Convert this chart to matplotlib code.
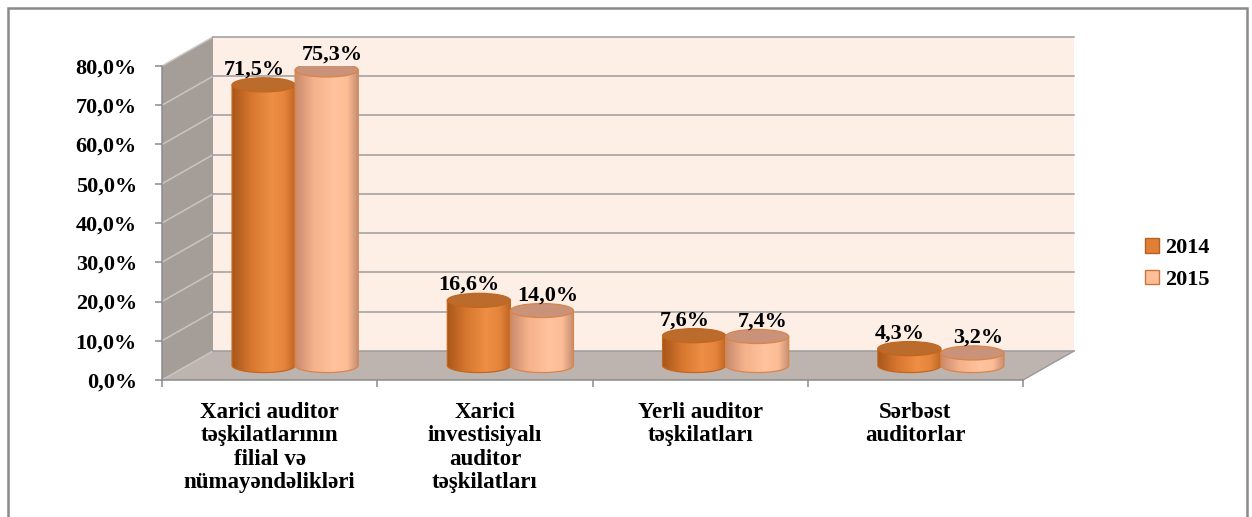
import numpy as np
import matplotlib
matplotlib.use('Agg')
import matplotlib.pyplot as plt
from matplotlib.patches import Polygon, Ellipse, PathPatch, Patch, Rectangle
from matplotlib.path import Path
from matplotlib.colors import LinearSegmentedColormap

# Data.
categories = ['Xarici auditor\ntəşkilatlarının\nfilial və\nnümayəndəlikləri',
              'Xarici\ninvestisiyalı\nauditor\ntəşkilatları',
              'Yerli auditor\ntəşkilatları',
              'Sərbəst\nauditorlar']
years = ['2014', '2015']
share_2014 = [71.5, 16.6, 7.6, 4.3]
share_2015 = [75.3, 14.0, 7.4, 3.2]
y_ticks = [0, 10, 20, 30, 40, 50, 60, 70, 80]

plt.rcParams['font.family'] = ['Liberation Serif', 'DejaVu Serif']
plt.rcParams['font.weight'] = 'bold'

# 3D look: how far the back wall sits from the front plane (data units).
DX, DY = 0.237, 7.39
BAR_W = 0.293
ELL_H = 3.6

fig = plt.figure(figsize=(12.52, 5.17), dpi=100)
ax = fig.add_axes([162 / 1252, 137 / 517, 861 / 1252, 314 / 517])
ax.set_facecolor('none')

x0, x1 = -0.5, len(categories) - 0.5
ymax = y_ticks[-1]

# walls and floor
side = Polygon([(x0, 0), (x0, ymax), (x0 + DX, ymax + DY), (x0 + DX, DY)],
               closed=True, facecolor='#a59d98', edgecolor='none', zorder=0.5, clip_on=False)
back = Polygon([(x0 + DX, DY), (x0 + DX, ymax + DY), (x1 + DX, ymax + DY), (x1 + DX, DY)],
               closed=True, facecolor='#fdeee6', edgecolor='none', zorder=0.5, clip_on=False)
floor = Polygon([(x0, 0), (x1, 0), (x1 + DX, DY), (x0 + DX, DY)],
                closed=True, facecolor='#bdb4b0', edgecolor='none', zorder=0.5, clip_on=False)
for p in (side, back, floor):
    ax.add_patch(p)

for t in y_ticks:
    ax.plot([x0, x0 + DX], [t, t + DY], color='#c9c5c3', lw=1.1, zorder=1, clip_on=False)
    ax.plot([x0 + DX, x1 + DX], [t + DY, t + DY], color='#9c9c9c', lw=1.1, zorder=1, clip_on=False)
ax.plot([x1, x1 + DX], [0, DY], color='#9c9c9c', lw=1.1, zorder=1, clip_on=False)

# cylinders
cmaps = [LinearSegmentedColormap.from_list('c14', [(0, '#a9561a'), (0.3, '#d7772f'), (0.62, '#ee8f45'),
                                                   (0.82, '#e5853b'), (1, '#bd6524')]),
         LinearSegmentedColormap.from_list('c15', [(0, '#c98a6c'), (0.3, '#f5b28c'), (0.62, '#ffc39d'),
                                                   (0.82, '#fcbc96'), (1, '#c28b70')])]
tops = ['#bb6b2c', '#c99279']
edges = ['#c4661e', '#d9854a']
offsets = [-7, 4]
grad = np.linspace(0, 1, 256).reshape(1, -1)
theta = np.linspace(np.pi, 2 * np.pi, 60)

for s, vals in enumerate([share_2014, share_2015]):
    for i, v in enumerate(vals):
        cx = i + DX / 2 + (s - 0.5) * BAR_W
        ybot = DY / 2
        ytop = v + DY / 2
        a, b = BAR_W / 2, ELL_H / 2
        verts = [(cx - a, ytop)]
        verts += list(zip(cx + a * np.cos(theta), ybot + b * np.sin(theta)))
        verts += [(cx + a, ytop), (cx - a, ytop)]
        codes = [Path.MOVETO] + [Path.LINETO] * (len(verts) - 2) + [Path.CLOSEPOLY]
        body = PathPatch(Path(verts, codes), facecolor='none', edgecolor=edges[s],
                         lw=0.9, zorder=3 + s * 2)
        ax.add_patch(body)
        im = ax.imshow(grad, cmap=cmaps[s], aspect='auto', zorder=2.9 + s * 2,
                       extent=[cx - a, cx + a, ybot - b, ytop])
        im.set_clip_path(body)
        ax.add_patch(Ellipse((cx, ytop), BAR_W, ELL_H, facecolor=tops[s],
                             edgecolor=edges[s], lw=0.9, zorder=3.5 + s * 2))
        ax.annotate(f'{v:.1f}%'.replace('.', ','), (cx, ytop), xytext=(offsets[s], 11),
                    textcoords='offset points', ha='center', va='center',
                    fontsize=16, fontweight='bold', zorder=8, annotation_clip=False)

ax.set_xlim(x0, x1)
ax.set_ylim(0, ymax)

ax.set_yticks(y_ticks)
ax.set_yticklabels([f'{t:.1f}%'.replace('.', ',') for t in y_ticks])
ax.set_xticks(range(len(categories)))
ax.set_xticklabels(categories, linespacing=1.14)
ax.set_xticks(np.arange(x0, x1 + 0.1, 1), minor=True)
ax.tick_params(axis='y', length=5, width=1.1, color='#8c8c8c', pad=13, labelsize=16)
ax.tick_params(axis='x', which='major', length=0, pad=16, labelsize=16.5)
ax.tick_params(axis='x', which='minor', length=5, width=1.1, color='#8c8c8c')
for sp in ('top', 'right'):
    ax.spines[sp].set_visible(False)
for sp in ('left', 'bottom'):
    ax.spines[sp].set_color('#8c8c8c')
    ax.spines[sp].set_linewidth(1.1)
    ax.spines[sp].set_zorder(2)

handles = [Patch(facecolor='#e07f35', edgecolor='#b5621f', lw=1),
           Patch(facecolor='#ffbe98', edgecolor='#c8743a', lw=1)]
fig.legend(handles, years, loc='center left', bbox_to_anchor=(1145 / 1252, 1 - 264 / 517),
           frameon=False, prop={'size': 16, 'weight': 'bold'}, handlelength=0.65,
           handleheight=0.65, handletextpad=0.25, labelspacing=0.5, borderpad=0, borderaxespad=0)

# outer frame of the chart
fig.patches.append(Rectangle((8 / 1252, -0.05), 1239 / 1252, 1.05 - 8 / 517,
                             transform=fig.transFigure, fill=False,
                             edgecolor='#8a8a8a', lw=1.8))

fig.savefig('out.png', dpi=100)
